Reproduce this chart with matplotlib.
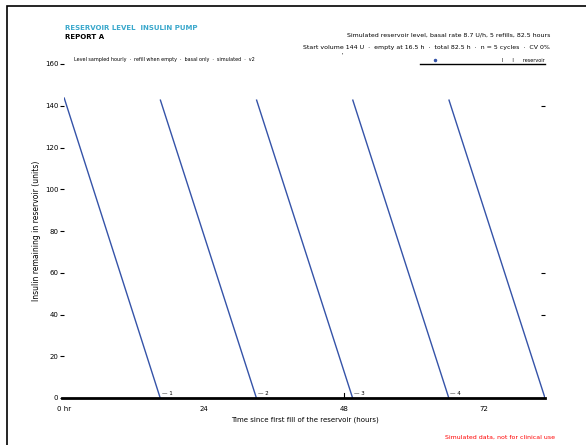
import numpy as np
import matplotlib.pyplot as plt
from matplotlib.patches import Rectangle

# reservoir cycles (hours, units)
cycle_start = [0.0, 16.5, 33.0, 49.5, 66.0]
cycle_end = [16.5, 33.0, 49.5, 66.0, 82.5]
start_level = [144, 143, 143, 143, 143]
end_level = [0, 0, 0, 0, 0]
refill_note = ["1", "2", "3", "4"]

x_ticks = [0, 24, 48, 72]
x_tick_labels = ["0 hr", "24", "48", "72"]
y_ticks = [0, 20, 40, 60, 80, 100, 120, 140, 160]
right_marks = [140, 60, 40]

line_color = "#3553a8"

fig = plt.figure(figsize=(5.86, 4.45), dpi=100)
ax = fig.add_axes([64 / 586, 1 - 398 / 445, (545 - 64) / 586, (398 - 64) / 445])

for x0, x1, y0, y1 in zip(cycle_start, cycle_end, start_level, end_level):
    ax.plot([x0, x1], [y0, y1], color=line_color, lw=1.0, solid_capstyle="butt")

for x, note in zip(cycle_end[:-1], refill_note):
    ax.text(x + 0.25, 0.8, "\u2014 " + note, fontsize=4, va="bottom", ha="left")

ax.set_xlim(0, 82.5)
ax.set_ylim(0, 160)
ax.set_xticks(x_ticks)
ax.set_xticklabels(x_tick_labels, fontsize=5)
ax.set_yticks(y_ticks)
ax.set_yticklabels([str(v) for v in y_ticks], fontsize=5)
ax.tick_params(axis="y", length=3, width=0.8, pad=1)
ax.tick_params(axis="x", length=0, pad=6)
for s in ["top", "right", "left"]:
    ax.spines[s].set_visible(False)
ax.spines["bottom"].set_linewidth(2)
ax.spines["bottom"].set_bounds(-0.3, 82.5)
ax.set_xlabel("Time since first fill of the reservoir (hours)", fontsize=5, labelpad=3)
ax.set_ylabel("Insulin remaining in reservoir (units)", fontsize=5.5, labelpad=3)
ax.axvline(48, ymin=0, ymax=0.015, color="black", lw=0.8)

rax = ax.twinx()
rax.set_ylim(0, 160)
rax.set_yticks(right_marks)
rax.set_yticklabels([])
rax.tick_params(axis="y", direction="in", length=3, width=0.8)
for s in ["top", "right", "left", "bottom"]:
    rax.spines[s].set_visible(False)

# caption inside top of plot
ax.text(0.02, 1.005, "Level sampled hourly  \u00b7  refill when empty  \u00b7  basal only  \u00b7  simulated  \u00b7  v2",
        transform=ax.transAxes, fontsize=3.5, va="bottom", ha="left")

# legend with underline
ax.plot([0.772], [1.012], marker="o", ms=1.5, color=line_color, transform=ax.transAxes, clip_on=False)
ax.text(1.0, 1.003, "l      l      reservoir", transform=ax.transAxes, fontsize=3.5,
        va="bottom", ha="right")
ax.plot([0.77 - 0.03, 1.0], [1.0, 1.0], color="black", lw=1, transform=ax.transAxes, clip_on=False)

# header
fig.text(65 / 586, 1 - 28 / 445, "RESERVOIR LEVEL  INSULIN PUMP", fontsize=5, color="#3aa8cc",
         fontweight="bold", va="center")
fig.text(65 / 586, 1 - 37 / 445, "REPORT A", fontsize=5, fontweight="bold", va="center")
fig.text(550 / 586, 1 - 35 / 445, "Simulated reservoir level, basal rate 8.7 U/h, 5 refills, 82.5 hours",
         fontsize=4.5, ha="right", va="center")
fig.text(550 / 586, 1 - 47 / 445,
         "Start volume 144 U  \u00b7  empty at 16.5 h  \u00b7  total 82.5 h  \u00b7  n = 5 cycles  \u00b7  CV 0%",
         fontsize=4.5, ha="right", va="center")
fig.text(342 / 586, 1 - 55 / 445, "'", fontsize=4, ha="center", va="center")
fig.text(555 / 586, 1 - 437 / 445, "Simulated data, not for clinical use", fontsize=4.5,
         color="red", ha="right", va="center")

fig.patches.append(Rectangle((7 / 586, -0.1), 1.2, 1 - 6 / 445 + 0.1, transform=fig.transFigure,
                             fill=False, edgecolor="black", lw=1.2))

fig.savefig("out.png", dpi=100)
